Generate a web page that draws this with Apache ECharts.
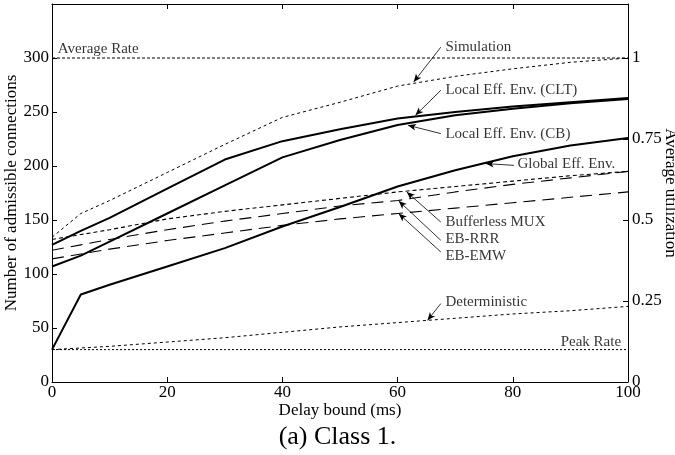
<!DOCTYPE html>
<html>
<head>
<meta charset="utf-8">
<script src="https://cdn.jsdelivr.net/npm/echarts@6/dist/echarts.min.js"></script>
<style>
  html, body { margin: 0; padding: 0; background: #fff; }
  #chart { width: 675px; height: 455px; }
</style>
</head>
<body>
<div id="chart"></div>
<script>
// Delay bound (ms) at which each admission scheme was evaluated
const delays = [0, 5, 10, 20, 30, 40, 50, 60, 70, 80, 90, 100];

// Number of admissible connections per scheme
const averageRate   = [300, 300, 300, 300, 300, 300, 300, 300, 300, 300, 300, 300];
const simulation    = [134, 156, 168, 194, 220, 245, 259, 274, 283, 290, 296, 300];
const localCLT      = [127, 140, 152, 179, 206, 223, 234, 244, 250, 255, 259, 263];
const localCB       = [107, 117, 130, 156, 182, 208, 224, 238, 247, 253, 258, 262];
const globalEnv     = [30, 81, 90, 107, 124, 144, 162, 181, 196, 209, 219, 226];
const bufferlessMux = [132, 136.5, 141, 151, 158, 164, 170, 176, 181, 186, 191, 195];
const ebRRR         = [122, 127, 132, 141, 149, 156, 163, 168, 176, 183, 189, 195];
const ebEMW         = [114, 118.5, 123, 131, 138, 145, 151, 156, 161, 166, 171, 176];
const deterministic = [30, 31.5, 33, 37, 41, 46, 51, 55, 59, 63, 66, 70];
const peakRate      = [30, 30, 30, 30, 30, 30, 30, 30, 30, 30, 30, 30];

// Axis ranges and ticks
const xTicks = { min: 0, max: 100, interval: 20 };
const yTicks = { min: 0, max: 350, interval: 50 };
const capacityAtFullUtil = 300;   // connections corresponding to utilization 1

// Curve annotations: text anchor [x, y], arrow from -> to (data units)
const annotations = [
  { text: 'Average Rate',           at: [1.0, 308.7],  side: 'right' },
  { text: 'Simulation',             at: [68.3, 310.2], side: 'right', from: [67.5, 310.0], to: [62.8, 277.8] },
  { text: 'Local Eff. Env. (CLT)',  at: [68.3, 270.1], side: 'right', from: [67.5, 270.1], to: [63.1, 246.9] },
  { text: 'Local Eff. Env. (CB)',   at: [68.3, 230.0], side: 'right', from: [67.5, 230.0], to: [61.8, 237.7] },
  { text: 'Global Eff. Env.',       at: [80.8, 202.2], side: 'right', from: [80.2, 200.6], to: [75.3, 202.2] },
  { text: 'Bufferless MUX',         at: [68.3, 148.1], side: 'right', from: [67.5, 148.1], to: [61.6, 175.9] },
  { text: 'EB-RRR',                 at: [68.3, 131.9], side: 'right', from: [67.5, 131.2], to: [60.2, 167.6] },
  { text: 'EB-EMW',                 at: [68.3, 116.4], side: 'right', from: [67.5, 120.4], to: [60.2, 155.9] },
  { text: 'Deterministic',          at: [68.3, 74.1],  side: 'right', from: [67.5, 72.6],  to: [65.2, 57.1] },
  { text: 'Peak Rate',              at: [98.8, 37.0],  side: 'left' }
];

const FONT = '"Liberation Serif", "Times New Roman", serif';

function pairs(values) {
  return delays.map((d, i) => [d, values[i]]);
}

function curve(name, values, width, dash) {
  return {
    name: name,
    type: 'line',
    data: pairs(values),
    symbol: 'none',
    silent: true,
    lineStyle: { color: '#000', width: width, type: dash || 'solid' }
  };
}

const series = [
  curve('Average Rate', averageRate, 1, [3, 2]),
  curve('Simulation', simulation, 1, [3, 3]),
  curve('Local Eff. Env. (CLT)', localCLT, 2, 'solid'),
  curve('Local Eff. Env. (CB)', localCB, 2, 'solid'),
  curve('Global Eff. Env.', globalEnv, 2, 'solid'),
  curve('Bufferless MUX', bufferlessMux, 1.1, [4, 3]),
  curve('EB-RRR', ebRRR, 1.1, [12, 7]),
  curve('EB-EMW', ebEMW, 1.1, [12, 7]),
  curve('Deterministic', deterministic, 1, [3, 3]),
  curve('Peak Rate', peakRate, 1, [2, 2])
];

// Text labels plus arrow leaders
series.push({
  type: 'scatter',
  silent: true,
  symbolSize: 0,
  data: annotations.map(a => ({
    value: a.at,
    name: a.text,
    label: { position: a.side }
  })),
  label: {
    show: true,
    distance: 0,
    formatter: p => p.name,
    color: '#000',
    fontFamily: FONT,
    fontSize: 15
  },
  markLine: {
    silent: true,
    symbol: ['none', 'arrow'],
    symbolSize: [5, 8],
    label: { show: false },
    lineStyle: { color: '#000', width: 0.8, type: 'solid' },
    emphasis: { disabled: true },
    data: annotations.filter(a => a.from).map(a => [
      { coord: a.from },
      { coord: a.to }
    ])
  }
});

const axisText = { color: '#000', fontFamily: FONT, fontSize: 17 };
const axisLineStyle = { show: true, onZero: false, lineStyle: { color: '#000', width: 1 } };
const inwardTicks = { show: true, inside: true, length: 5, lineStyle: { color: '#000' } };

const option = {
  animation: false,
  backgroundColor: '#fff',
  title: {
    text: '(a) Class 1.',
    left: 'center',
    top: 424,
    padding: 0,
    textStyle: { color: '#000', fontFamily: FONT, fontSize: 26, fontWeight: 'normal' }
  },
  grid: { left: 52, right: 47, top: 4, bottom: 73, containLabel: false, outerBoundsMode: 'none' },
  xAxis: [
    {
      type: 'value',
      position: 'bottom',
      min: xTicks.min, max: xTicks.max, interval: xTicks.interval,
      name: 'Delay bound (ms)',
      nameLocation: 'middle',
      nameGap: 20,
      nameMoveOverlap: false,
      nameTextStyle: axisText,
      axisLine: axisLineStyle,
      axisTick: inwardTicks,
      axisLabel: Object.assign({ margin: 2 }, axisText),
      splitLine: { show: false }
    },
    {
      type: 'value',
      position: 'top',
      min: xTicks.min, max: xTicks.max, interval: xTicks.interval,
      axisLine: axisLineStyle,
      axisTick: inwardTicks,
      axisLabel: { show: false },
      splitLine: { show: false }
    }
  ],
  yAxis: [
    {
      type: 'value',
      position: 'left',
      min: yTicks.min, max: yTicks.max, interval: yTicks.interval,
      name: 'Number of admissible connections',
      nameLocation: 'middle',
      nameRotate: 90,
      nameGap: 32,
      nameMoveOverlap: false,
      nameTextStyle: axisText,
      axisLine: axisLineStyle,
      axisTick: inwardTicks,
      axisLabel: Object.assign({ margin: 3, showMaxLabel: false }, axisText),
      splitLine: { show: false }
    },
    {
      type: 'value',
      position: 'right',
      min: 0, max: yTicks.max / capacityAtFullUtil, interval: 0.25,
      name: 'Average utilization',
      nameLocation: 'middle',
      nameRotate: -90,
      nameGap: 34,
      nameMoveOverlap: false,
      nameTextStyle: axisText,
      axisLine: axisLineStyle,
      axisTick: inwardTicks,
      axisLabel: Object.assign({ margin: 4, showMaxLabel: false }, axisText),
      splitLine: { show: false }
    }
  ],
  series: series
};

const chart = echarts.init(document.getElementById('chart'), null, { renderer: 'canvas' });
chart.setOption(option);
</script>
</body>
</html>
